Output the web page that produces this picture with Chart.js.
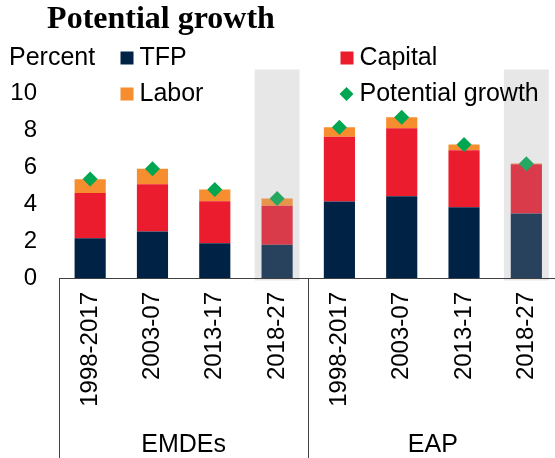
<!DOCTYPE html>
<html>
<head>
<meta charset="utf-8">
<script src="https://cdn.jsdelivr.net/npm/chart.js@4/dist/chart.umd.min.js"></script>
<style>
html,body{margin:0;padding:0;background:#fff;overflow:hidden;width:555px;height:458px;}
canvas{display:block;}
</style>
</head>
<body>
<canvas id="c" width="565" height="458"></canvas>
<script>
// ---- data ----
const categories = ['1998-2017','2003-07','2013-17','2018-27','1998-2017','2003-07','2013-17','2018-27'];
const groups = ['EMDEs','EAP'];
const forecast = [false,false,false,true,false,false,false,true];
const tfp = [2.15, 2.51, 1.88, 1.80, 4.14, 4.42, 3.83, 3.49];
const capital = [2.45, 2.56, 2.27, 2.10, 3.49, 3.68, 3.08, 2.66];
const labor = [0.74, 0.83, 0.63, 0.40, 0.52, 0.59, 0.31, 0.04];
const potential = [5.35, 5.90, 4.78, 4.30, 8.15, 8.69, 7.22, 6.18];
const yTicks = [0, 2, 4, 6, 8, 10];

// ---- styles ----
const FONT = '"Liberation Sans", Arial, sans-serif';
const colors = {
  tfp: ['#002345', '#28425e'],
  capital: ['#eb1c2d', '#d93b4a'],
  labor: ['#f68d2e', '#e8954c'],
  pg: ['#00a651', '#26a862']
};
const pick = (pair) => (ctx) => forecast[ctx.dataIndex] ? pair[1] : pair[0];

const barBase = { type: 'bar', stack: 'c', barPercentage: 0.5, categoryPercentage: 1.0, order: 1, borderWidth: 0 };

const decor = {
  id: 'decor',
  beforeDatasetsDraw(chart) {
    const { ctx, scales: { x, y } } = chart;
    const cw = (x.right - x.left) / categories.length;
    const top = y.getPixelForValue(11.27);
    const bottom = y.getPixelForValue(0) + 2.5;
    ctx.save();
    ctx.fillStyle = '#e7e7e7';
    forecast.forEach((f, i) => {
      if (!f) return;
      const cx = x.getPixelForValue(i);
      const w = cw * 0.72;
      ctx.fillRect(cx - w / 2, top, w, bottom - top);
    });
    ctx.restore();
  },
  afterDatasetsDraw(chart) {
    const { ctx, scales: { x, y } } = chart;
    const cw = (x.right - x.left) / categories.length;
    const per = categories.length / groups.length;
    const y0 = Math.round(y.getPixelForValue(0)) + 0.5;
    ctx.save();
    // axis line
    ctx.strokeStyle = '#404040';
    ctx.lineWidth = 1;
    ctx.beginPath();
    ctx.moveTo(x.left, y0);
    ctx.lineTo(chart.width, y0);
    ctx.stroke();
    // group dividers
    for (let g = 0; g <= groups.length; g++) {
      const px = Math.round(x.left + g * per * cw) + 0.5;
      ctx.beginPath();
      ctx.moveTo(px, y0);
      ctx.lineTo(px, chart.height);
      ctx.stroke();
    }
    // group labels
    ctx.fillStyle = '#000';
    ctx.font = '25px ' + FONT;
    ctx.textAlign = 'center';
    ctx.textBaseline = 'middle';
    groups.forEach((g, i) => {
      const cx = x.left + (i + 0.5) * per * cw;
      ctx.fillText(g, cx, 445);
    });
    // title
    ctx.font = 'bold 32px "Liberation Serif", "Times New Roman", serif';
    ctx.textAlign = 'center';
    ctx.textBaseline = 'alphabetic';
    ctx.fillText('Potential growth', 161, 28);
    // unit label
    ctx.font = '25px ' + FONT;
    ctx.textAlign = 'left';
    ctx.textBaseline = 'middle';
    ctx.fillText('Percent', 9, 58);
    // legend
    const cols = [120.5, 340.5];
    const rows = [58, 94];
    chart.data.datasets.forEach((ds, i) => {
      const lx = cols[i % 2];
      const ly = rows[Math.floor(i / 2)];
      ctx.fillStyle = ds.legendColor;
      if (ds.type === 'line') {
        const cx = lx + 6, r = 7;
        ctx.beginPath();
        ctx.moveTo(cx - r, ly); ctx.lineTo(cx, ly - r); ctx.lineTo(cx + r, ly); ctx.lineTo(cx, ly + r);
        ctx.closePath();
        ctx.fill();
      } else {
        ctx.fillRect(lx, ly - 6.5, 13, 13);
      }
      ctx.fillStyle = '#000';
      ctx.fillText(ds.label, lx + 19, ly);
    });
    ctx.restore();
  }
};

new Chart(document.getElementById('c'), {
  data: {
    labels: categories,
    datasets: [
      Object.assign({}, barBase, { label: 'TFP', data: tfp, backgroundColor: pick(colors.tfp), legendColor: colors.tfp[0] }),
      Object.assign({}, barBase, { label: 'Capital', data: capital, backgroundColor: pick(colors.capital), legendColor: colors.capital[0] }),
      Object.assign({}, barBase, { label: 'Labor', data: labor, backgroundColor: pick(colors.labor), legendColor: colors.labor[0] }),
      {
        type: 'line', label: 'Potential growth', data: potential, stack: 'pg', order: 0,
        showLine: false, pointStyle: 'rectRot', pointRadius: 7.5, pointHoverRadius: 7.5,
        pointBorderWidth: 0, pointBackgroundColor: pick(colors.pg), legendColor: colors.pg[0], clip: false
      }
    ]
  },
  options: {
    responsive: false,
    animation: false,
    events: [],
    layout: { padding: { top: 93, right: 4, left: 0, bottom: 0 } },
    plugins: { legend: { display: false }, title: { display: false }, tooltip: { enabled: false } },
    scales: {
      x: {
        stacked: true,
        grid: { display: false, drawTicks: false, tickLength: 0 },
        border: { display: false },
        ticks: { autoSkip: false, minRotation: 90, maxRotation: 90, padding: 14, color: '#000', font: { family: FONT, size: 24 } },
        afterFit: (s) => { s.height = 180; s.paddingLeft = 0; s.paddingRight = 0; }
      },
      y: {
        stacked: true,
        min: 0, max: 10,
        afterBuildTicks: (s) => { s.ticks = yTicks.map(v => ({ value: v })); },
        grid: { display: false, drawTicks: false, tickLength: 0 },
        border: { display: false },
        ticks: { padding: 22, color: '#000', font: { family: FONT, size: 24 } },
        afterFit: (s) => { s.width = 59; }
      }
    }
  },
  plugins: [decor]
});
</script>
</body>
</html>
